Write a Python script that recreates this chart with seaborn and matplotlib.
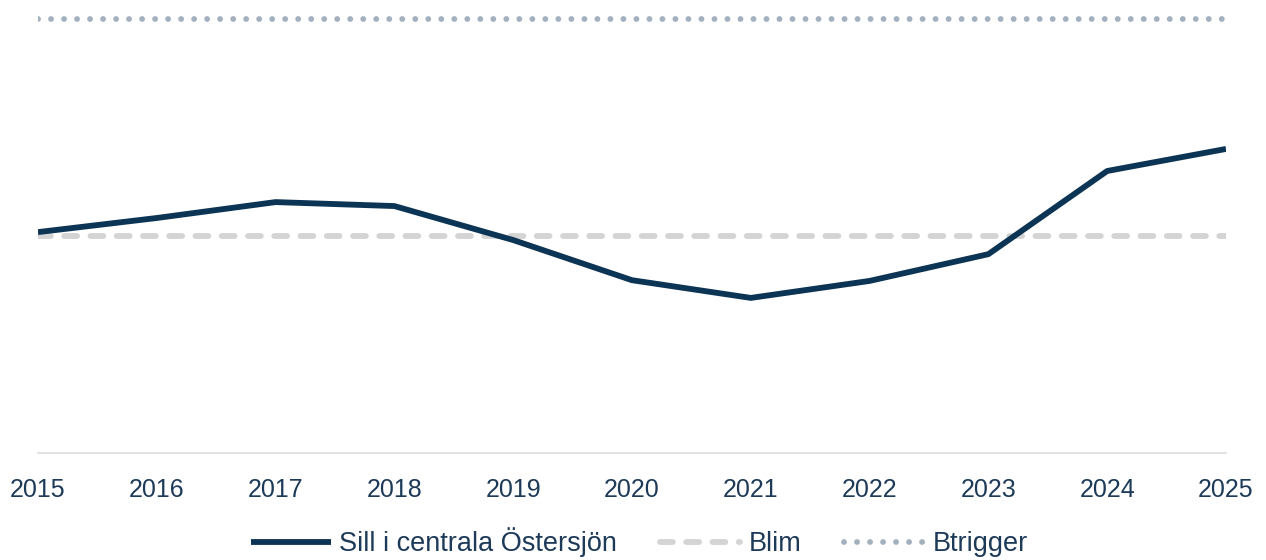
import pandas as pd
import seaborn as sns
import matplotlib.pyplot as plt

# values (arbitrary units, Blim = 600)
years = [2015, 2016, 2017, 2018, 2019, 2020, 2021, 2022, 2023, 2024, 2025]
herring = [611, 650, 694, 683, 589, 478, 429, 476, 550, 780, 841]
blim = 600
btrigger = 1200

navy = '#0c3455'
text_color = '#1d3a58'
lw = 4.2

sns.set_theme(style='white')
plt.rcParams['font.family'] = ['Liberation Sans', 'DejaVu Sans']

df = pd.DataFrame({'year': years, 'Sill i centrala Östersjön': herring,
                   'Blim': [blim] * len(years), 'Btrigger': [btrigger] * len(years)})

fig = plt.figure(figsize=(12.66, 5.6), dpi=100)
ax = fig.add_axes([0.030, 0.191, 0.9384, 0.791])

sns.lineplot(data=df, x='year', y='Blim', ax=ax, color='#d4d4d4', linewidth=lw,
             label='Blim')
ax.lines[-1].set_dashes((2.2, 2.3))
ax.lines[-1].set_dash_capstyle('round')
sns.lineplot(data=df, x='year', y='Btrigger', ax=ax, color='#a3b1bf', linewidth=lw,
             label='Btrigger')
ax.lines[-1].set_dashes((0.01, 2.22))
ax.lines[-1].set_dash_capstyle('round')
sns.lineplot(data=df, x='year', y='Sill i centrala Östersjön', ax=ax, color=navy,
             linewidth=lw, label='Sill i centrala Östersjön')
ax.lines[-1].set_solid_capstyle('butt')

ax.set_xlim(2015, 2025)
ax.set_ylim(0, 1225)
ax.set_xticks(years)
ax.set_xticklabels([str(y) for y in years], fontsize=18, color=text_color)
ax.set_yticks([])
ax.set_xlabel('')
ax.set_ylabel('')
ax.tick_params(axis='x', length=0, pad=18)
for side in ['top', 'right', 'left']:
    ax.spines[side].set_visible(False)
ax.spines['bottom'].set_color('#dcdcdc')
ax.spines['bottom'].set_linewidth(1.2)
ax.spines['bottom'].set_zorder(0)

handles, labels = ax.get_legend_handles_labels()
order = [2, 0, 1]
ax.legend([handles[i] for i in order], [labels[i] for i in order],
          loc='center', bbox_to_anchor=(0.505, 0.032), bbox_transform=fig.transFigure,
          ncol=3, frameon=False, fontsize=19.5, labelcolor=text_color,
          handlelength=2.95, handletextpad=0.3, columnspacing=1.6,
          borderpad=0.1)

fig.savefig('out.png', dpi=100)
